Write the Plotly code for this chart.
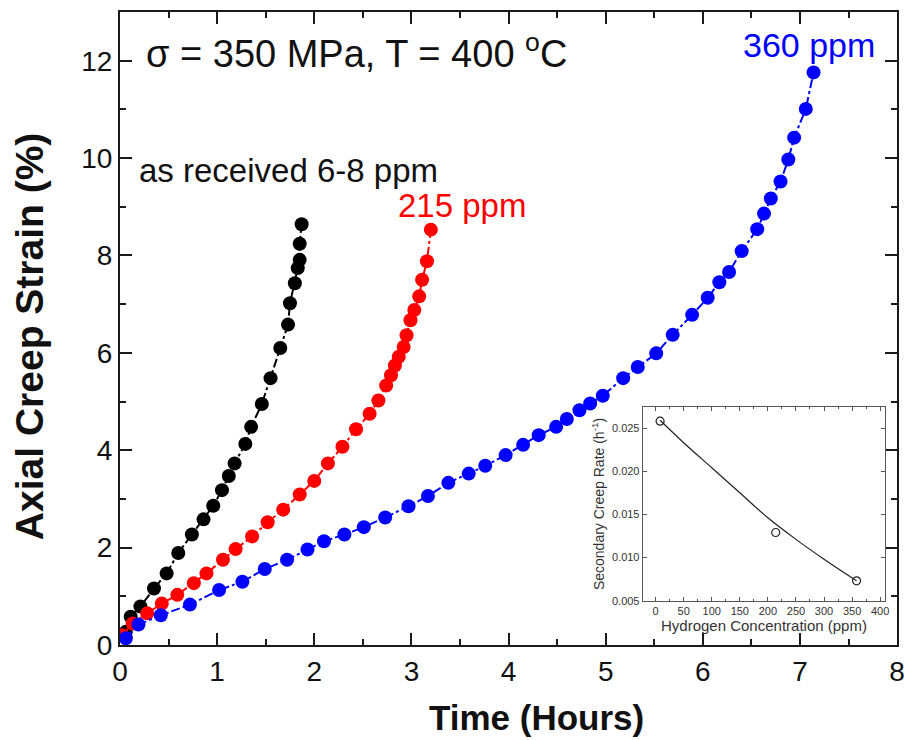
import plotly.graph_objects as go

# ---- main data (Time in hours, Axial creep strain in %) ----
t_asrec = [0.06, 0.11, 0.21, 0.35, 0.48, 0.60, 0.74, 0.86, 0.96, 1.05, 1.12, 1.18,
           1.29, 1.35, 1.46, 1.55, 1.65, 1.73, 1.75, 1.80, 1.83, 1.85, 1.85, 1.87]
e_asrec = [0.27, 0.58, 0.79, 1.16, 1.47, 1.89, 2.27, 2.58, 2.86, 3.18, 3.47, 3.73,
           4.13, 4.48, 4.95, 5.48, 6.10, 6.58, 7.02, 7.43, 7.74, 7.91, 8.24, 8.64]

t_215 = [0.02, 0.13, 0.28, 0.43, 0.59, 0.76, 0.89, 1.06, 1.19, 1.36, 1.52, 1.68, 1.85,
         2.00, 2.14, 2.29, 2.43, 2.57, 2.66, 2.74, 2.79, 2.83, 2.87, 2.92, 2.95, 2.99,
         3.03, 3.08, 3.11, 3.16, 3.20]
e_215 = [0.20, 0.44, 0.65, 0.85, 1.03, 1.27, 1.47, 1.75, 1.97, 2.23, 2.52, 2.78, 3.09,
         3.37, 3.73, 4.07, 4.43, 4.75, 5.02, 5.33, 5.54, 5.74, 5.92, 6.12, 6.36, 6.67,
         6.88, 7.16, 7.50, 7.88, 8.53]

t_360 = [0.06, 0.19, 0.42, 0.72, 1.02, 1.26, 1.49, 1.72, 1.93, 2.10, 2.31, 2.51, 2.73,
         2.97, 3.17, 3.38, 3.59, 3.76, 3.97, 4.15, 4.31, 4.49, 4.60, 4.73, 4.84, 4.97,
         5.18, 5.33, 5.52, 5.69, 5.89, 6.05, 6.17, 6.27, 6.40, 6.56, 6.63, 6.70, 6.80,
         6.88, 6.94, 7.06, 7.14]
e_360 = [0.14, 0.42, 0.61, 0.83, 1.13, 1.30, 1.56, 1.75, 1.96, 2.13, 2.27, 2.42, 2.62,
         2.85, 3.06, 3.33, 3.52, 3.68, 3.90, 4.11, 4.31, 4.48, 4.64, 4.82, 4.96, 5.12,
         5.48, 5.71, 5.99, 6.37, 6.78, 7.13, 7.45, 7.66, 8.09, 8.54, 8.86, 9.17, 9.52,
         9.97, 10.42, 11.01, 11.76]

# ---- inset data ----
h_conc = [8, 214, 358]
creep_rate = [0.0258, 0.0129, 0.0073]
fit_conc = [8, 50, 100, 150, 200, 250, 300, 358]
fit_rate = [0.0259, 0.0233, 0.0204, 0.0175, 0.0146, 0.0121, 0.0098, 0.0073]

x_ticks = [0, 1, 2, 3, 4, 5, 6, 7, 8]
y_ticks = [0, 2, 4, 6, 8, 10, 12]
inset_x_ticks = [0, 50, 100, 150, 200, 250, 300, 350, 400]
inset_y_ticks = [0.005, 0.010, 0.015, 0.020, 0.025]

FONT = "Liberation Sans, Arial, Helvetica, sans-serif"

fig = go.Figure()

for t, e, c in [(t_asrec, e_asrec, "#000000"), (t_215, e_215, "#ff0000"), (t_360, e_360, "#0000ff")]:
    fig.add_trace(go.Scatter(
        x=t, y=e, mode="lines+markers",
        line=dict(color=c, width=2, dash="dashdot"),
        marker=dict(color=c, size=14, line=dict(width=0)),
        showlegend=False, xaxis="x", yaxis="y"))

fig.add_trace(go.Scatter(
    x=fit_conc, y=fit_rate, mode="lines",
    line=dict(color="#222222", width=1.2, shape="spline"),
    showlegend=False, xaxis="x2", yaxis="y2"))
fig.add_trace(go.Scatter(
    x=h_conc, y=creep_rate, mode="markers",
    marker=dict(symbol="circle-open", color="#222222", size=8, line=dict(width=1.2)),
    showlegend=False, xaxis="x2", yaxis="y2"))

main_axis = dict(showline=True, linewidth=2, linecolor="#1a1a1a", mirror="ticks",
                 ticks="inside", ticklen=12, tickwidth=2, tickcolor="#1a1a1a",
                 showgrid=False, zeroline=False,
                 tickfont=dict(family=FONT, size=28, color="#111111"))

# page body has an 8px margin, so the figure is 8px smaller and shifted
fig.update_layout(
    width=904, height=732,
    margin=dict(l=112, r=0, t=4, b=95),
    paper_bgcolor="white", plot_bgcolor="white",
    font=dict(family=FONT, color="#111111"),
    xaxis=dict(range=[0, 8], tickvals=x_ticks, domain=[0, 0.9912],
               minor=dict(dtick=0.5, ticklen=6, tickwidth=2, tickcolor="#1a1a1a", ticks="inside"),
               **main_axis),
    yaxis=dict(range=[0, 13], tickvals=y_ticks, domain=[0, 1],
               minor=dict(dtick=1, ticklen=6, tickwidth=2, tickcolor="#1a1a1a", ticks="inside"),
               **main_axis),
    xaxis2=dict(domain=[0.6667, 0.9760], anchor="y2", range=[-23, 409],
                tickvals=inset_x_ticks, showline=True, linewidth=1, linecolor="#555555",
                mirror="ticks", ticks="inside", ticklen=4, tickwidth=1, tickcolor="#555555",
                minor=dict(dtick=25, ticklen=2, tickcolor="#555555", ticks="inside"),
                showgrid=False, zeroline=False,
                tickfont=dict(family=FONT, size=11, color="#333333"),
                title=dict(text="Hydrogen Concentration (ppm)", standoff=4,
                           font=dict(family=FONT, size=15, color="#333333"))),
    yaxis2=dict(domain=[0.0695, 0.376], anchor="x2", range=[0.00496, 0.02744],
                tickvals=inset_y_ticks, tickformat=".3f", showline=True, linewidth=1,
                linecolor="#555555", mirror="ticks", ticks="inside", ticklen=4, tickwidth=1,
                tickcolor="#555555", showgrid=False, zeroline=False,
                tickfont=dict(family=FONT, size=11, color="#333333"),
                title=dict(text="Secondary Creep Rate (h<sup>-1</sup>)", standoff=4,
                           font=dict(family=FONT, size=14, color="#333333"))),
)

annotations = [
    dict(x=0.25, y=12.2, xref="x", yref="y", xanchor="left", yanchor="middle",
         text="σ = 350 MPa, T = 400 <sup>o</sup>C", showarrow=False,
         font=dict(family=FONT, size=38, color="#111111")),
    dict(x=0.17, y=9.75, xref="x", yref="y", xanchor="left", yanchor="middle",
         text="as received 6-8 ppm", showarrow=False,
         font=dict(family=FONT, size=33, color="#111111")),
    dict(x=2.84, y=9.03, xref="x", yref="y", xanchor="left", yanchor="middle",
         text="215 ppm", showarrow=False,
         font=dict(family=FONT, size=33, color="#ff0000")),
    dict(x=6.39, y=12.33, xref="x", yref="y", xanchor="left", yanchor="middle",
         text="360 ppm", showarrow=False,
         font=dict(family=FONT, size=34, color="#0000ff")),
    dict(x=0.531, y=-0.115, xref="paper", yref="paper", xanchor="center", yanchor="middle",
         text="<b>Time (Hours)</b>", showarrow=False,
         font=dict(family=FONT, size=35, color="#111111")),
    dict(x=-0.1146, y=0.4866, xref="paper", yref="paper", xanchor="center", yanchor="middle",
         text="<b>Axial Creep Strain (%)</b>", showarrow=False, textangle=-90,
         font=dict(family=FONT, size=39, color="#111111")),
]
fig.update_layout(annotations=annotations)

fig.write_html("out.html")
